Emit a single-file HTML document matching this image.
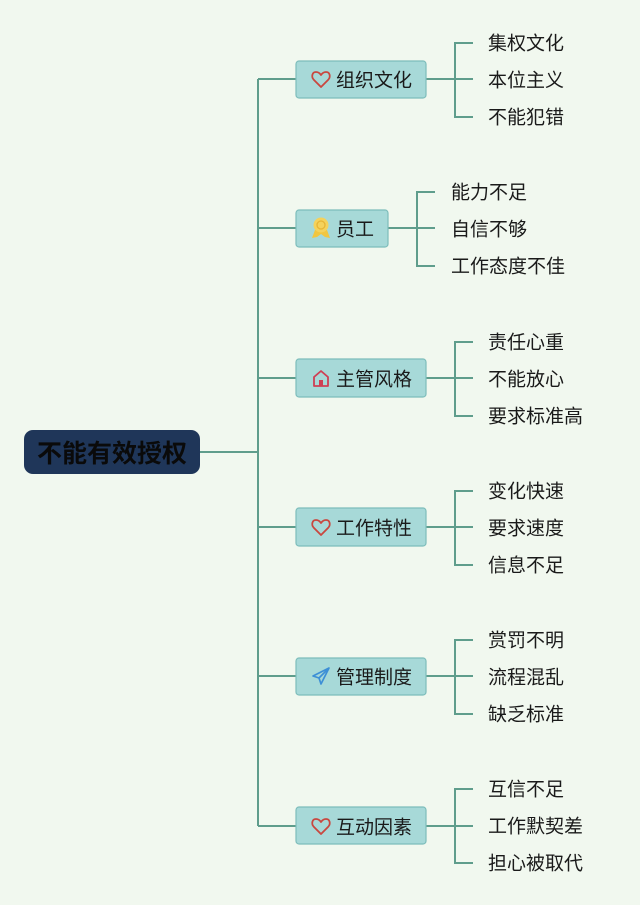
<!DOCTYPE html>
<html><head><meta charset="utf-8">
<style>
html,body{margin:0;padding:0;background:#f1f8ef;}
svg{display:block;}
text{font-family:"Liberation Sans","Noto Sans CJK SC",sans-serif;}
</style></head>
<body>
<svg width="640" height="905" viewBox="0 0 640 905" xmlns="http://www.w3.org/2000/svg">
<rect width="640" height="905" fill="#f1f8ef"/>
<g stroke="#5f9d8c" stroke-width="2" fill="none">
  <line x1="200" y1="452" x2="258" y2="452"/>
  <line x1="258" y1="79" x2="258" y2="826"/>
  <line x1="258" y1="79" x2="296" y2="79"/>
  <line x1="258" y1="228" x2="296" y2="228"/>
  <line x1="258" y1="378" x2="296" y2="378"/>
  <line x1="258" y1="527" x2="296" y2="527"/>
  <line x1="258" y1="676" x2="296" y2="676"/>
  <line x1="258" y1="826" x2="296" y2="826"/>
  <line x1="426" y1="79" x2="473" y2="79"/>
  <polyline points="473,43 455,43 455,117 473,117"/>
  <line x1="388" y1="228" x2="435" y2="228"/>
  <polyline points="435,192 417,192 417,266 435,266"/>
  <line x1="426" y1="378" x2="473" y2="378"/>
  <polyline points="473,342 455,342 455,416 473,416"/>
  <line x1="426" y1="527" x2="473" y2="527"/>
  <polyline points="473,491 455,491 455,565 473,565"/>
  <line x1="426" y1="676" x2="473" y2="676"/>
  <polyline points="473,640 455,640 455,714 473,714"/>
  <line x1="426" y1="826" x2="473" y2="826"/>
  <polyline points="473,789 455,789 455,863 473,863"/>
</g>

<rect x="24" y="430" width="176" height="44" rx="9" fill="#1f3659"/>
<text x="112" y="454" font-size="25" font-weight="bold" fill="#0a0a0a" text-anchor="middle" dominant-baseline="central">不能有效授权</text>

<g fill="#a7d9d8" stroke="#7dbdbb" stroke-width="1.2">
  <rect x="296" y="61" width="130" height="37" rx="3"/>
  <rect x="296" y="210" width="92" height="37" rx="3"/>
  <rect x="296" y="359" width="130" height="38" rx="3"/>
  <rect x="296" y="508" width="130" height="38" rx="3"/>
  <rect x="296" y="658" width="130" height="37" rx="3"/>
  <rect x="296" y="807" width="130" height="37" rx="3"/>
</g>

<g fill="none" stroke="#c9473f" stroke-width="1.8" stroke-linejoin="round">
  <path d="M321,87 L314,80 C311,77 312,72 316,72 C318.5,72 320,73.5 321,75 C322,73.5 323.5,72 326,72 C330,72 331,77 328,80 Z"/>
  <path d="M321,535 L314,528 C311,525 312,520 316,520 C318.5,520 320,521.5 321,523 C322,521.5 323.5,520 326,520 C330,520 331,525 328,528 Z"/>
  <path d="M321,834 L314,827 C311,824 312,819 316,819 C318.5,819 320,820.5 321,822 C322,820.5 323.5,819 326,819 C330,819 331,824 328,827 Z"/>
</g>
<g stroke="#cf3f54" stroke-width="1.8" fill="none" stroke-linejoin="round">
  <path d="M314,386 L314,377 L321,371 L328,377 L328,386 Z"/>
</g>
<rect x="319" y="380" width="4" height="6" fill="#cf3f54"/>
<g>
  <path d="M315,230 L312,238 L317,237 L321,234 L325,237 L330,238 L327,230 Z" fill="#f1c640"/>
  <circle cx="321" cy="225" r="7.5" fill="#f4d25c"/>
  <circle cx="321" cy="225" r="4" fill="none" stroke="#e6b536" stroke-width="1.3"/>
</g>
<g stroke="#3d8fd6" stroke-width="1.7" fill="none" stroke-linejoin="round">
  <path d="M329,668 L313,676 L319,678 L321,684 Z"/>
  <path d="M319,678 L329,668"/>
</g>

<g font-size="19" fill="#1a1a1a" dominant-baseline="central">
  <text x="336" y="81">组织文化</text>
  <text x="336" y="230">员工</text>
  <text x="336" y="380">主管风格</text>
  <text x="336" y="529">工作特性</text>
  <text x="336" y="678">管理制度</text>
  <text x="336" y="828">互动因素</text>
</g>

<g font-size="19" fill="#1a1a1a" dominant-baseline="central">
  <text x="488" y="44">集权文化</text>
  <text x="488" y="81">本位主义</text>
  <text x="488" y="118">不能犯错</text>

  <text x="451" y="193">能力不足</text>
  <text x="451" y="230">自信不够</text>
  <text x="451" y="267">工作态度不佳</text>

  <text x="488" y="343">责任心重</text>
  <text x="488" y="380">不能放心</text>
  <text x="488" y="417">要求标准高</text>

  <text x="488" y="492">变化快速</text>
  <text x="488" y="529">要求速度</text>
  <text x="488" y="566">信息不足</text>

  <text x="488" y="641">赏罚不明</text>
  <text x="488" y="678">流程混乱</text>
  <text x="488" y="715">缺乏标准</text>

  <text x="488" y="790">互信不足</text>
  <text x="488" y="827">工作默契差</text>
  <text x="488" y="864">担心被取代</text>
</g>
</svg>
</body></html>
